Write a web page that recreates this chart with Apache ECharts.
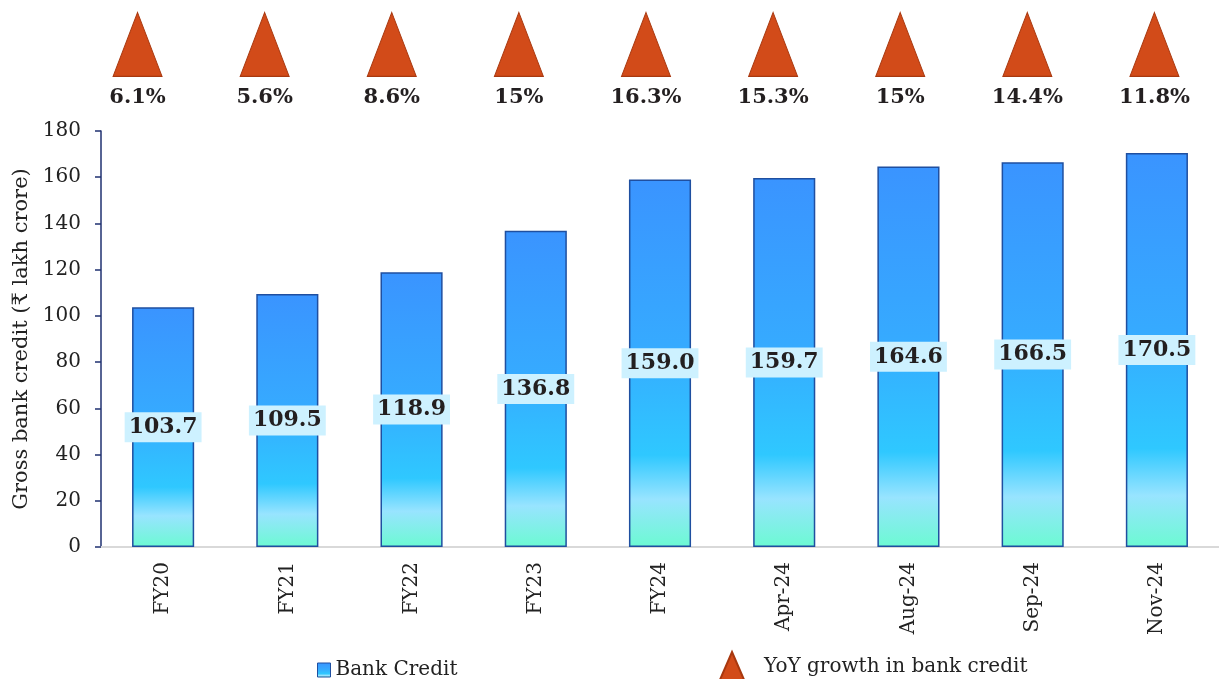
<!DOCTYPE html>
<html>
<head>
<meta charset="utf-8">
<script src="https://cdn.jsdelivr.net/npm/echarts@6/dist/echarts.min.js"></script>
<style>
  html, body { margin: 0; padding: 0; background: #ffffff; }
  #chart { width: 1219px; height: 679px; }
</style>
</head>
<body>
<div id="chart"></div>
<script>
// Gross bank credit (₹ lakh crore) and year-on-year growth
const categories = ['FY20', 'FY21', 'FY22', 'FY23', 'FY24', 'Apr-24', 'Aug-24', 'Sep-24', 'Nov-24'];
const bankCredit = [103.7, 109.5, 118.9, 136.8, 159.0, 159.7, 164.6, 166.5, 170.5];
const yoyGrowth = [6.1, 5.6, 8.6, 15, 16.3, 15.3, 15, 14.4, 11.8];
const yTicks = [0, 20, 40, 60, 80, 100, 120, 140, 160, 180];

const SERIF = "Georgia, 'DejaVu Serif', serif";
const TRI_COLOR = '#d24b19';

const barFill = new echarts.graphic.LinearGradient(0, 0, 0, 1, [
  { offset: 0, color: '#3a94ff' },
  { offset: 0.45, color: '#36aaff' },
  { offset: 0.75, color: '#2fc8ff' },
  { offset: 0.87, color: '#98e4ff' },
  { offset: 1, color: '#6cfad2' }
]);

const chart = echarts.init(document.getElementById('chart'));
chart.setOption({
  animation: false,
  backgroundColor: '#ffffff',
  textStyle: { fontFamily: SERIF },
  grid: [
    { left: 101, top: 131, right: 0, bottom: 132 },
    { left: 74, top: 0, width: 1144, height: 120 }
  ],
  legend: [
    {
      left: 312, top: 655,
      itemWidth: 13, itemHeight: 14,
      textStyle: { fontFamily: SERIF, fontSize: 20, color: '#222' },
      data: [{ name: 'Bank Credit', icon: 'rect', itemStyle: { color: barFill, borderColor: '#1f4fa0', borderWidth: 1 } }]
    },
    {
      left: 713, top: 646,
      itemWidth: 26, itemHeight: 30, itemGap: 0,
      textStyle: { fontFamily: SERIF, fontSize: 20, color: '#222', padding: [0, 0, 0, 14] },
      data: [{ name: 'YoY growth in bank credit', icon: 'triangle' }]
    }
  ],
  xAxis: [
    {
      type: 'category', gridIndex: 0, data: categories,
      axisLine: { show: true, lineStyle: { color: '#d9d9d9', width: 2 } },
      axisTick: { show: false },
      axisLabel: { rotate: 90, fontFamily: SERIF, fontSize: 20, color: '#222', margin: 15 }
    },
    {
      type: 'category', gridIndex: 1, data: categories, show: false
    }
  ],
  yAxis: [
    {
      type: 'value', gridIndex: 0, min: yTicks[0], max: yTicks[yTicks.length - 1], interval: 20,
      name: 'Gross bank credit (₹ lakh crore)',
      nameLocation: 'middle', nameGap: 68, nameRotate: 90,
      nameTextStyle: { fontFamily: SERIF, fontSize: 21, color: '#222' },
      axisLine: { show: true, lineStyle: { color: '#1f3070', width: 1.5 } },
      axisTick: { show: true, inside: false, length: 6, lineStyle: { color: '#1f3070', width: 1.5 } },
      axisLabel: { fontFamily: SERIF, fontSize: 20, color: '#222', margin: 20 },
      splitLine: { show: false }
    },
    {
      type: 'value', gridIndex: 1, min: 0, max: 1, show: false
    }
  ],
  series: [
    {
      name: 'Bank Credit',
      type: 'bar',
      xAxisIndex: 0, yAxisIndex: 0,
      data: bankCredit,
      barWidth: '50%',
      itemStyle: { color: barFill, borderColor: '#1f4fa0', borderWidth: 1.5 },
      label: {
        show: true, position: 'inside',
        formatter: p => p.value.toFixed(1),
        fontFamily: SERIF, fontSize: 22, fontWeight: 'bold', color: '#231f20',
        backgroundColor: '#cdf1ff', padding: [5, 4, 3, 4]
      }
    },
    {
      name: 'YoY growth in bank credit',
      type: 'scatter',
      xAxisIndex: 1, yAxisIndex: 1,
      data: yoyGrowth.map((v, i) => [i, 0.63]),
      symbol: 'triangle',
      symbolSize: [49, 64],
      itemStyle: { color: TRI_COLOR, borderColor: '#a8380f', borderWidth: 1, opacity: 1 },
      label: {
        show: true, position: 'bottom', distance: 10,
        formatter: p => yoyGrowth[p.dataIndex] + '%',
        fontFamily: SERIF, fontSize: 21, fontWeight: 'bold', color: '#231f20'
      }
    }
  ]
});
</script>
</body>
</html>
